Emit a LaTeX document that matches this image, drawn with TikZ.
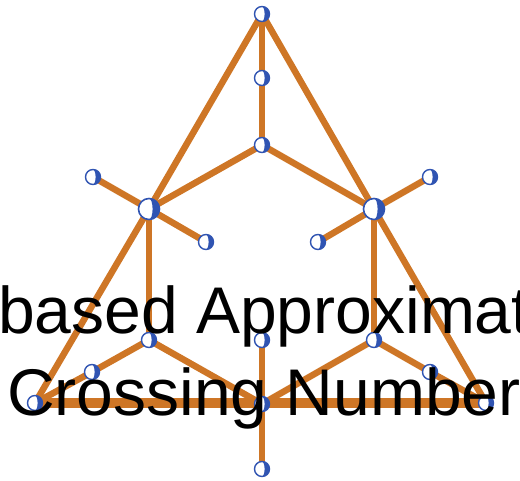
\documentclass[tikz,border=0pt]{standalone}
\usepackage{fontspec}
\setmainfont{Liberation Sans}
\usetikzlibrary{backgrounds}
\definecolor{edgeor}{RGB}{206,118,38}
\definecolor{nodebl}{RGB}{48,84,178}
\tikzset{
  edge/.style={draw=edgeor,line width=6.5pt},
  thickedge/.style={draw=edgeor,line width=10pt},
  svtx/.style={circle,draw=nodebl,line width=1.4pt,fill=white,inner sep=0pt,minimum size=15pt,
    path picture={\fill[nodebl] (path picture bounding box.center) ++(0,-7.5) arc[start angle=-90,end angle=90,radius=7.5] arc[start angle=90,end angle=-90,x radius=2.6,y radius=7.5] -- cycle;}},
  bvtx/.style={circle,draw=nodebl,line width=1.6pt,fill=white,inner sep=0pt,minimum size=21pt,
    path picture={\fill[nodebl] (path picture bounding box.center) ++(0,-10.5) arc[start angle=-90,end angle=90,radius=10.5] arc[start angle=90,end angle=-90,x radius=3.6,y radius=10.5] -- cycle;}},
  txt/.style={anchor=base west,inner sep=0pt,font=\fontsize{66}{66}\selectfont,text=black}
}
\begin{document}
\begin{tikzpicture}[x=1pt,y=-1pt]
\useasboundingbox (0,0) rectangle (520,481);
% vertices
\node[svtx] (T) at (262,14) {};
\node[svtx] (T2) at (262,78) {};
\node[svtx] (C) at (262,145) {};
\node[bvtx] (L) at (149,209) {};
\node[bvtx] (R) at (374,209) {};
\node[svtx] (Lout) at (93,177) {};
\node[svtx] (Lin) at (206,242) {};
\node[svtx] (Rout) at (430,177) {};
\node[svtx] (Rin) at (318,242) {};
\node[svtx] (Lb) at (149,340) {};
\node[svtx] (L2) at (92,372) {};
\node[svtx] (BL) at (35,403) {};
\node[svtx] (M) at (262,340) {};
\node[svtx] (B) at (262,404) {};
\node[svtx] (Bb) at (262,469) {};
\node[svtx] (Rb) at (374,340) {};
\node[svtx] (R2) at (430,372) {};
\node[svtx] (BR) at (486,403) {};
% edges (behind vertices)
\begin{scope}[on background layer]
\draw[thickedge] (BL.center) -- (BR.center);
\draw[edge] (T.center) -- (L.center);
\draw[edge] (T.center) -- (R.center);
\draw[edge] (T.center) -- (T2.center);
\draw[edge] (T2.center) -- (C.center);
\draw[edge] (C.center) -- (L.center);
\draw[edge] (C.center) -- (R.center);
\draw[edge] (L.center) -- (Lout.center);
\draw[edge] (L.center) -- (Lin.center);
\draw[edge] (R.center) -- (Rout.center);
\draw[edge] (R.center) -- (Rin.center);
\draw[edge] (L.center) -- (Lb.center);
\draw[edge] (R.center) -- (Rb.center);
\draw[edge] (L.center) -- (BL.center);
\draw[edge] (R.center) -- (BR.center);
\draw[edge] (BL.center) -- (L2.center);
\draw[edge] (L2.center) -- (Lb.center);
\draw[edge] (Lb.center) -- (B.center);
\draw[edge] (BR.center) -- (R2.center);
\draw[edge] (R2.center) -- (Rb.center);
\draw[edge] (Rb.center) -- (B.center);
\draw[edge] (M.center) -- (B.center);
\draw[edge] (B.center) -- (Bb.center);
\end{scope}
% overlaid title text
\node[txt] (line1) at (-2,334) {based Approximat};
\node[txt] (line2) at (7,415) {Crossing Number};
\end{tikzpicture}
\end{document}
